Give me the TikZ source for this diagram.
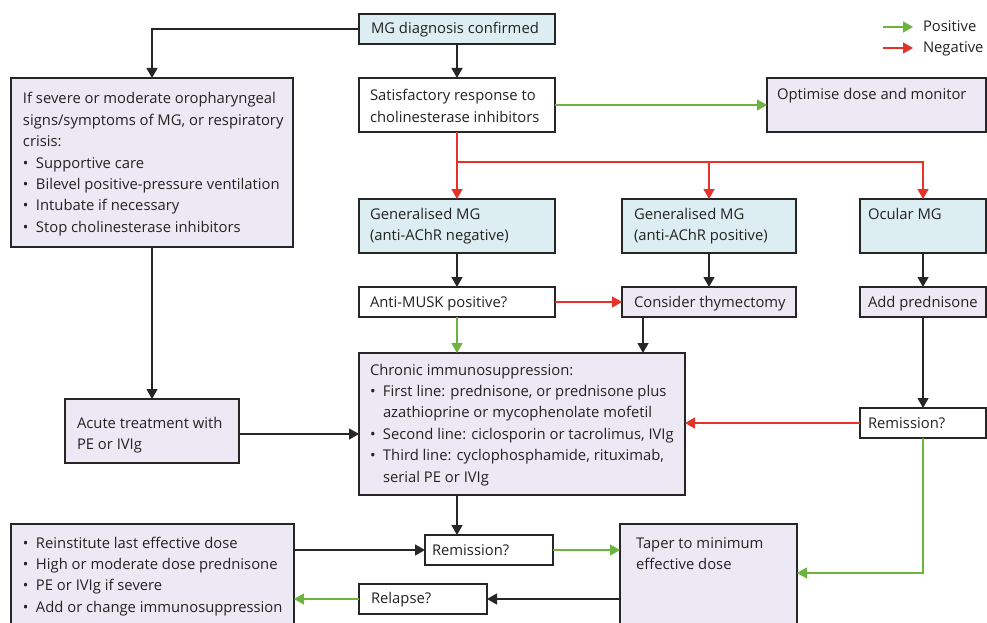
\documentclass[tikz,border=0pt]{standalone}
\usepackage{fontspec}
\setmainfont{Open Sans}
\usetikzlibrary{arrows.meta}
\definecolor{bluefill}{HTML}{DDEEF3}
\definecolor{lavfill}{HTML}{ECE9F5}
\definecolor{posgreen}{HTML}{6DB33F}
\definecolor{negred}{HTML}{E5332A}
\definecolor{linegray}{HTML}{262626}
\definecolor{textgray}{HTML}{222222}
\newcommand{\bul}{\makebox[13pt][l]{•}}
\newcommand{\ind}{\hspace*{13pt}}
\newcommand{\tl}[1]{\begin{tabular}[t]{@{}l@{}}#1\end{tabular}}
\begin{document}
\begin{tikzpicture}[x=1pt,y=-1pt,
 boxbase/.style={draw=linegray, line width=1.3pt, inner sep=0pt, outer sep=0pt, anchor=north west},
 bluebox/.style={boxbase, fill=bluefill},
 lavbox/.style={boxbase, fill=lavfill},
 whitebox/.style={boxbase, fill=white},
 txt/.style={anchor=base west, inner sep=0pt, outer sep=0pt, text=textgray, font=\fontsize{14.8}{21.4}\selectfont},
 tiparr/.style={-{Triangle[length=10pt,width=11pt]}},
 blkarr/.style={tiparr, color=linegray, line width=1.3pt},
 posarr/.style={tiparr, color=posgreen, line width=1.3pt},
 negarr/.style={tiparr, color=negred, line width=1.3pt}]
\clip (0,0) rectangle (987,623);
% boxes
\node[bluebox, minimum width=196pt, minimum height=30pt] (diag) at (359,14) {};
\node[lavbox, minimum width=282pt, minimum height=169pt] (severe) at (11,78) {};
\node[whitebox, minimum width=196pt, minimum height=54pt] (satis) at (359,78) {};
\node[lavbox, minimum width=219pt, minimum height=54pt] (optim) at (767,78) {};
\node[bluebox, minimum width=196pt, minimum height=54pt] (genneg) at (359,199) {};
\node[bluebox, minimum width=174pt, minimum height=54pt] (genpos) at (622,199) {};
\node[bluebox, minimum width=126pt, minimum height=54pt] (ocular) at (860,199) {};
\node[whitebox, minimum width=196pt, minimum height=30pt] (musk) at (359,287) {};
\node[lavbox, minimum width=174pt, minimum height=30pt] (thym) at (622,287) {};
\node[lavbox, minimum width=126pt, minimum height=30pt] (addpred) at (860,287) {};
\node[lavbox, minimum width=326pt, minimum height=142pt] (chronic) at (359,353) {};
\node[lavbox, minimum width=174pt, minimum height=64pt] (acute) at (65,399) {};
\node[whitebox, minimum width=126pt, minimum height=30pt] (remR) at (860,408) {};
\node[lavbox, minimum width=283pt, minimum height=116pt] (botleft) at (11,524) {};
\node[whitebox, minimum width=128pt, minimum height=30pt] (remB) at (425,535) {};
\node[whitebox, minimum width=128pt, minimum height=30pt] (relapse) at (359,584) {};
\node[lavbox, minimum width=177pt, minimum height=116pt] (taper) at (620,524) {};
% texts
\node[txt] (diagT) at (371,34) {\tl{MG diagnosis confirmed}};
\node[txt] (severeT) at (23,104) {\tl{If severe or moderate oropharyngeal\\signs/symptoms of MG, or respiratory\\crisis:\\\bul Supportive care\\\bul Bilevel positive-pressure ventilation\\\bul Intubate if necessary\\\bul Stop cholinesterase inhibitors}};
\node[txt] (satisT) at (370,101) {\tl{Satisfactory response to\\cholinesterase inhibitors}};
\node[txt] (optimT) at (777,100) {\tl{Optimise dose and monitor}};
\node[txt] (gennegT) at (370,219) {\tl{Generalised MG\\(anti-AChR negative)}};
\node[txt] (genposT) at (634,219) {\tl{Generalised MG\\(anti-AChR positive)}};
\node[txt] (ocularT) at (868,219) {\tl{Ocular MG}};
\node[txt] (muskT) at (370,307) {\tl{Anti-MUSK positive?}};
\node[txt] (thymT) at (634,307) {\tl{Consider thymectomy}};
\node[txt] (addpredT) at (868,307) {\tl{Add prednisone}};
\node[txt] (chronicT) at (370,375) {\tl{Chronic immunosuppression:\\\bul First line: prednisone, or prednisone plus\\\ind azathioprine or mycophenolate mofetil\\\bul Second line: ciclosporin or tacrolimus, IVIg\\\bul Third line: cyclophosphamide, rituximab,\\\ind serial PE or IVIg}};
\node[txt] (acuteT) at (77,428) {\tl{Acute treatment with\\PE or IVIg}};
\node[txt] (remRT) at (868,428) {\tl{Remission?}};
\node[txt] (botleftT) at (23,548) {\tl{\bul Reinstitute last effective dose\\\bul High or moderate dose prednisone\\\bul PE or IVIg if severe\\\bul Add or change immunosuppression}};
\node[txt] (remBT) at (432,555) {\tl{Remission?}};
\node[txt] (relapseT) at (371,603) {\tl{Relapse?}};
\node[txt] (taperT) at (636,548) {\tl{Taper to minimum\\effective dose}};
% legend
\coordinate (lp1) at (883,27);
\coordinate (lp2) at (913,27);
\coordinate (ln1) at (883,48);
\coordinate (ln2) at (913,48);
\node[txt] (posT) at (923,32) {Positive};
\node[txt] (negT) at (923,53) {Negative};
\draw[posarr] (lp1) -- (lp2);
\draw[negarr] (ln1) -- (ln2);
% connectors
\coordinate (rb) at (457,162);
\draw[blkarr] (diag.west) -| (severe.north);
\draw[blkarr] (diag.south) -- (satis.north);
\draw[posarr] (satis.east) -- (optim.west);
\draw[negarr] (satis.south) -- (genneg.north);
\draw[negarr] (rb) -| (genpos.north);
\draw[negarr] (rb) -| (ocular.north);
\draw[blkarr] (genneg.south) -- (musk.north);
\draw[negarr] (musk.east) -- (thym.west);
\draw[posarr] (musk.south) -- (musk.south |- chronic.north);
\draw[blkarr] (genpos.south) -- (thym.north);
\draw[blkarr] ([xshift=-66pt]thym.south) -- ([xshift=-66pt]thym.south |- chronic.north);
\draw[blkarr] (ocular.south) -- (addpred.north);
\draw[blkarr] (addpred.south) -- (remR.north);
\draw[negarr] (remR.west) -- (remR.west -| chronic.east);
\draw[posarr] (remR.south) |- ([yshift=9pt]taper.east);
\draw[blkarr] (severe.south) -- (severe.south |- acute.north);
\draw[blkarr] ([yshift=-3pt]acute.east) -- ([yshift=-3pt]acute.east -| chronic.west);
\draw[blkarr] (musk.south |- chronic.south) -- (musk.south |- remB.north);
\draw[blkarr] (remB.west -| botleft.east) -- (remB.west);
\draw[posarr] (remB.east) -- (remB.east -| taper.west);
\draw[blkarr] (relapse.east -| taper.west) -- (relapse.east);
\draw[posarr] (relapse.west) -- (relapse.west -| botleft.east);
\end{tikzpicture}
\end{document}
